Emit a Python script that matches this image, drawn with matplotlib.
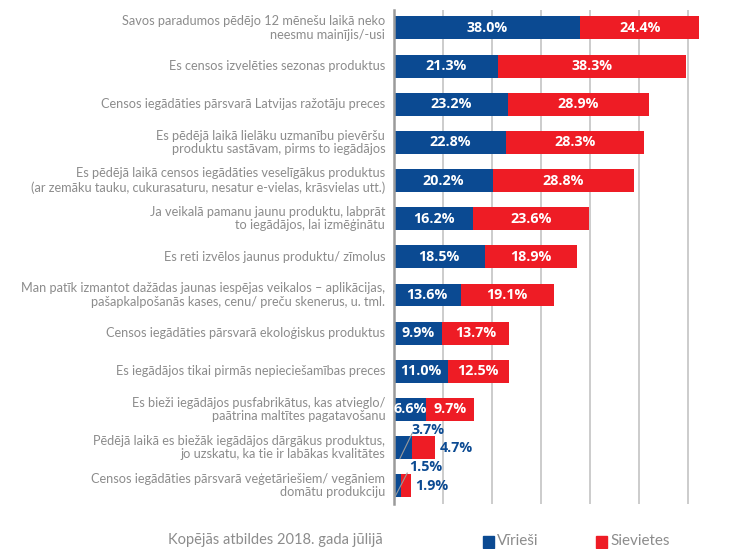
import matplotlib
matplotlib.use("Agg")
import matplotlib.pyplot as plt
import numpy as np

categories = [
    "Savos paradumos pēdējo 12 mēnešu laikā neko\nneesmu mainījis/-usi",
    "Es censos izvelēties sezonas produktus",
    "Censos iegādāties pārsvarā Latvijas ražotāju preces",
    "Es pēdējā laikā lielāku uzmanību pievēršu\nproduktu sastāvam, pirms to iegādājos",
    "Es pēdējā laikā censos iegādāties veselīgākus produktus\n(ar zemāku tauku, cukurasaturu, nesatur e-vielas, krāsvielas utt.)",
    "Ja veikalā pamanu jaunu produktu, labprāt\nto iegādājos, lai izmēģinātu",
    "Es reti izvēlos jaunus produktu/ zīmolus",
    "Man patīk izmantot dažādas jaunas iespējas veikalos – aplikācijas,\npašapkalpošanās kases, cenu/ preču skenerus, u. tml.",
    "Censos iegādāties pārsvarā ekoloģiskus produktus",
    "Es iegādājos tikai pirmās nepieciešamības preces",
    "Es bieži iegādājos pusfabrikātus, kas atvieglo/\npaātrina maltītes pagatavošanu",
    "Pēdējā laikā es biežāk iegādājos dārgākus produktus,\njo uzskatu, ka tie ir labākas kvalitātes",
    "Censos iegādāties pārsvarā veģetāriešiem/ vegāniem\ndomātu produkciju",
]
men = [38.0, 21.3, 23.2, 22.8, 20.2, 16.2, 18.5, 13.6, 9.9, 11.0, 6.6, 3.7, 1.5]
women = [24.4, 38.3, 28.9, 28.3, 28.8, 23.6, 18.9, 19.1, 13.7, 12.5, 9.7, 4.7, 1.9]
series_names = ["Vīrieši", "Sievietes"]
xticks = [0, 10, 20, 30, 40, 50, 60]

BLUE = "#0b4a92"
RED = "#ee1c25"
GREY_TXT = "#8c8c8c"

plt.rcParams['font.family'] = ['Lato', 'DejaVu Sans']

W, H = 729, 549
fig = plt.figure(figsize=(W / 100, H / 100), dpi=100)
ax_left = 394 / W
ax_right = 717 / W
ax_top = 1 - 10 / H
ax_bot = 1 - 504 / H
ax = fig.add_axes([ax_left, ax_bot, ax_right - ax_left, ax_top - ax_bot])

n = len(categories)
y = np.arange(n)
bh = 0.6
ax.barh(y, men, height=bh, color=BLUE, zorder=3)
ax.barh(y, women, left=men, height=bh, color=RED, zorder=3)

ax.set_xlim(0, 66)
ax.set_ylim(12.48, -0.47)
ax.set_xticks(xticks)
ax.grid(axis='x', color='#c8c8c8', linewidth=1.3, zorder=0)
ax.set_yticks([])
ax.set_xticklabels([])
ax.tick_params(axis='x', length=0)
for s in ['top', 'right', 'bottom']:
    ax.spines[s].set_visible(False)
ax.spines['left'].set_color('#9a9a9a')
ax.spines['left'].set_linewidth(1.8)
ax.spines['left'].set_zorder(4)

lbl_font = dict(family=['Open Sans', 'DejaVu Sans'], fontweight='bold', fontsize=10.3)
for i in range(n):
    m, w = men[i], women[i]
    if m >= 5:
        ax.text(m / 2, i, f"{m:.1f}%", color='white', ha='center', va='center', zorder=5, **lbl_font)
        ax.text(m + w / 2, i, f"{w:.1f}%", color='white', ha='center', va='center', zorder=5, **lbl_font)

# small rows with leader lines
ax.plot([1.2, 3.7], [11 + 0.29, 11 - 0.37], color='#9a9a9a', lw=0.8, zorder=6)
ax.text(3.6, 11 - 0.45, f"{men[11]:.1f}%", color=BLUE, ha='left', va='center', zorder=6, **lbl_font)
ax.text(9.3, 11, f"{women[11]:.1f}%", color=BLUE, ha='left', va='center', zorder=6, **lbl_font)
ax.plot([0.2, 2.7], [12 + 0.29, 12 - 0.33], color='#9a9a9a', lw=0.8, zorder=6)
ax.text(3.2, 12 - 0.5, f"{men[12]:.1f}%", color=BLUE, ha='left', va='center', zorder=6, **lbl_font)
ax.text(4.4, 12, f"{women[12]:.1f}%", color=BLUE, ha='left', va='center', zorder=6, **lbl_font)

# category labels
for i, c in enumerate(categories):
    ax.text(-1.8, i, c, ha='right', va='center', color=GREY_TXT, fontsize=9.2,
            linespacing=1.15, transform=ax.transData, clip_on=False)

# bottom caption
fig.text(383 / W, 1 - 540 / H, "Kopējās atbildes 2018. gada jūlijā", ha='right', va='center',
         color=GREY_TXT, fontsize=10.5)

# legend
for (x0, col, name) in [(483, BLUE, series_names[0]), (596, RED, series_names[1])]:
    fig.patches.append(plt.Rectangle((x0 / W, 1 - 548 / H), 11 / W, 12 / H,
                                     transform=fig.transFigure, color=col, figure=fig))
    fig.text((x0 + 14) / W, 1 - 541 / H, name, ha='left', va='center', color=GREY_TXT, fontsize=11)

fig.savefig("out.png", dpi=100)
